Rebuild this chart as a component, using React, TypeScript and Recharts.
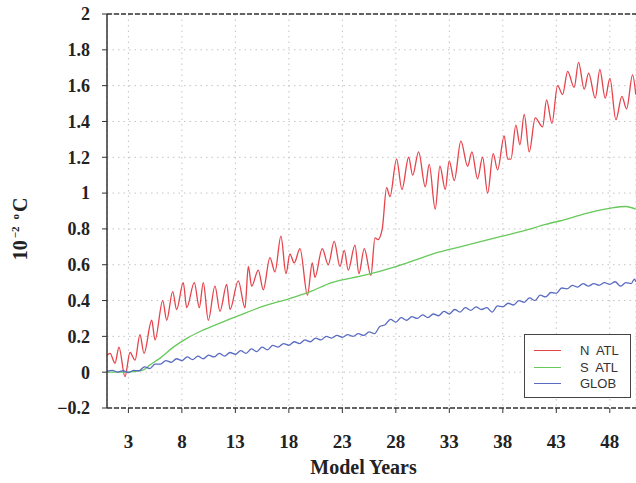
import { LineChart, Line, XAxis, YAxis, CartesianGrid, ReferenceLine } from 'recharts';

// [model year, value in 10^-2 °C]
const nAtl: [number, number][] = [
    [1.0, 0.095], [1.28, 0.105], [1.75, 0.05], [2.12, 0.14], [2.68, -0.025], [3.15, 0.11],
    [3.62, 0.067], [4.08, 0.21], [4.46, 0.105], [5.18, 0.29], [5.49, 0.18], [6.21, 0.4],
    [6.58, 0.29], [7.14, 0.45], [7.51, 0.35], [8.13, 0.5], [8.45, 0.36], [9.16, 0.5],
    [9.63, 0.36], [10.0, 0.5], [10.47, 0.29], [11.09, 0.48], [11.56, 0.34], [12.19, 0.49],
    [12.5, 0.35], [13.27, 0.51], [13.9, 0.36], [14.21, 0.59], [14.52, 0.48], [15.14, 0.57],
    [15.61, 0.46], [16.23, 0.64], [16.7, 0.56], [17.26, 0.76], [17.73, 0.55], [18.1, 0.66],
    [18.5, 0.61], [19.04, 0.69], [19.74, 0.43], [20.19, 0.61], [20.44, 0.53], [21.12, 0.69],
    [21.68, 0.6], [22.24, 0.73], [22.78, 0.59], [23.18, 0.68], [23.55, 0.57], [24.18, 0.71],
    [24.55, 0.55], [25.05, 0.69], [25.67, 0.54], [26.05, 0.75], [26.33, 0.74], [26.73, 0.8],
    [27.14, 1.03], [27.45, 0.98], [28.07, 1.19], [28.57, 1.02], [29.2, 1.2], [29.57, 1.1],
    [30.13, 1.23], [30.75, 1.035], [31.12, 1.16], [31.68, 0.91], [32.12, 1.15], [32.62, 1.02],
    [32.99, 1.18], [33.46, 1.07], [34.08, 1.29], [34.71, 1.15], [35.11, 1.23], [35.64, 1.08],
    [36.11, 1.2], [36.58, 1.0], [37.1, 1.22], [37.51, 1.13], [38.13, 1.32], [38.45, 1.19],
    [38.76, 1.19], [39.22, 1.38], [39.6, 1.27], [40.0, 1.44], [40.47, 1.23], [41.03, 1.42],
    [41.72, 1.37], [42.09, 1.52], [42.59, 1.39], [43.12, 1.6], [43.59, 1.55], [44.06, 1.68],
    [44.67, 1.59], [45.08, 1.73], [45.61, 1.58], [46.02, 1.67], [46.64, 1.53], [47.07, 1.69],
    [47.57, 1.53], [48.01, 1.64], [48.57, 1.41], [49.13, 1.54], [49.57, 1.47], [50.13, 1.66],
    [50.43, 1.55],
];

const sAtl: [number, number][] = [
    [1.0, 0.0], [2.7, 0.0], [4.3, 0.01], [5.0, 0.04], [6.0, 0.08], [7.2, 0.14], [8.5, 0.19],
    [9.8, 0.23], [11.8, 0.28], [13.5, 0.32], [15.7, 0.37], [18.0, 0.41], [20.0, 0.45],
    [22.0, 0.5], [25.0, 0.54], [28.0, 0.59], [30.0, 0.63], [32.0, 0.67], [34.0, 0.7],
    [36.0, 0.73], [38.0, 0.76], [40.0, 0.79], [42.0, 0.825], [44.0, 0.855], [46.0, 0.89],
    [48.0, 0.915], [49.5, 0.925], [50.43, 0.91],
];

const glob: [number, number][] = [
    [1.0, 0.005], [1.5, 0.01], [2.0, 0.0], [2.5, 0.008], [3.0, -0.002], [3.5, 0.01], [4.0, 0.008],
    [4.5, 0.03], [5.0, 0.02], [5.5, 0.045], [6.0, 0.045], [6.5, 0.065], [7.0, 0.055], [7.5, 0.075],
    [8.0, 0.065], [8.5, 0.085], [9.0, 0.07], [9.5, 0.09], [10.0, 0.075], [10.5, 0.095], [11.0, 0.085],
    [11.5, 0.105], [12.0, 0.09], [12.5, 0.11], [13.0, 0.1], [13.5, 0.12], [14.0, 0.105], [14.5, 0.13],
    [15.0, 0.115], [15.5, 0.14], [16.0, 0.125], [16.5, 0.15], [17.0, 0.14], [17.5, 0.16], [18.0, 0.15],
    [18.5, 0.17], [19.0, 0.16], [19.5, 0.18], [20.0, 0.17], [20.5, 0.19], [21.0, 0.18], [21.5, 0.2],
    [22.0, 0.19], [22.5, 0.205], [23.0, 0.195], [23.5, 0.21], [24.0, 0.2], [24.5, 0.215], [25.0, 0.205],
    [25.5, 0.225], [26.0, 0.215], [26.5, 0.255], [27.0, 0.265], [27.5, 0.295], [28.0, 0.28],
    [28.5, 0.305], [29.0, 0.29], [29.5, 0.31], [30.0, 0.3], [30.5, 0.32], [31.0, 0.305], [31.5, 0.325],
    [32.0, 0.315], [32.5, 0.34], [33.0, 0.325], [33.5, 0.35], [34.0, 0.335], [34.5, 0.36], [35.0, 0.345],
    [35.5, 0.365], [36.0, 0.35], [36.5, 0.36], [37.0, 0.335], [37.5, 0.37], [38.0, 0.365], [38.5, 0.385],
    [39.0, 0.375], [39.5, 0.4], [40.0, 0.39], [40.5, 0.415], [41.0, 0.4], [41.5, 0.43], [42.0, 0.42],
    [42.5, 0.445], [43.0, 0.44], [43.5, 0.47], [44.0, 0.465], [44.5, 0.485], [45.0, 0.475],
    [45.5, 0.495], [46.0, 0.48], [46.5, 0.495], [47.0, 0.485], [47.5, 0.5], [48.0, 0.49], [48.5, 0.505],
    [49.0, 0.48], [49.5, 0.5], [50.0, 0.495], [50.3, 0.52], [50.43, 0.505],
];

const xTicks = [3, 8, 13, 18, 23, 28, 33, 38, 43, 48];
const yTicks = [-0.2, 0, 0.2, 0.4, 0.6, 0.8, 1, 1.2, 1.4, 1.6, 1.8, 2];

const series = [
    { name: 'N  ATL', points: nAtl, color: '#e6434b' },
    { name: 'S  ATL', points: sAtl, color: '#66c95a' },
    { name: 'GLOB', points: glob, color: '#5a6cc2' },
];

const serif = '"Liberation Serif", "Times New Roman", serif';

const fmtY = (v: number) => {
    if (v === 0) return '0';
    const s = Number.isInteger(v) ? String(v) : v.toFixed(1);
    return s.replace('-', '\u2212');
};

function YLabel() {
    return (
        <text
            transform="translate(27, 229) rotate(-90)"
            textAnchor="middle"
            fontFamily={serif}
            fontWeight="bold"
            fontSize={20}
            fill="#222"
        >
            <tspan>10</tspan>
            <tspan fontSize={11} dx={2} dy={-8}>{'\u22122'}</tspan>
            <tspan fontSize={11} dx={7}>o</tspan>
            <tspan dx={2} dy={8}>C</tspan>
        </text>
    );
}

export default function App() {
    return (
        <div style={{ position: 'absolute', left: 0, top: 0, width: 636, height: 483, background: '#fff' }}>
            <LineChart width={636} height={483} margin={{ top: 14, right: 0, bottom: 0, left: 0 }}>
                <CartesianGrid stroke="#c4c4c4" strokeDasharray="1.5 4" />
                <XAxis
                    type="number"
                    dataKey="x"
                    domain={[1, 50.45]}
                    ticks={xTicks}
                    allowDataOverflow
                    height={75}
                    tickSize={5}
                    tickMargin={22}
                    tickLine={{ stroke: '#333' }}
                    axisLine={{ stroke: '#333', strokeDasharray: '5 2', strokeWidth: 1.5 }}
                    tick={{ fontFamily: serif, fontWeight: 'bold', fontSize: 19, fill: '#222' }}
                    label={{
                        value: 'Model Years',
                        position: 'insideBottom',
                        offset: 9,
                        dx: -8,
                        style: { fontFamily: serif, fontWeight: 'bold', fontSize: 20, fill: '#222' },
                    }}
                />
                <YAxis
                    type="number"
                    domain={[-0.2, 2]}
                    ticks={yTicks}
                    allowDataOverflow
                    width={107}
                    tickSize={5}
                    tickMargin={12}
                    tickFormatter={fmtY}
                    tickLine={{ stroke: '#333' }}
                    axisLine={{ stroke: '#333', strokeWidth: 1.5 }}
                    tick={{ fontFamily: serif, fontWeight: 'bold', fontSize: 18, fill: '#222' }}
                    label={{ content: () => <YLabel /> }}
                />
                <ReferenceLine y={2} stroke="#333" strokeWidth={1.5} strokeDasharray="5 2" />
                {series.map(s => (
                    <Line
                        key={s.name}
                        data={s.points.map(([x, y]) => ({ x, y }))}
                        dataKey="y"
                        type="monotone"
                        stroke={s.color}
                        strokeWidth={1.3}
                        dot={false}
                        isAnimationActive={false}
                    />
                ))}
            </LineChart>
            <div
                style={{
                    position: 'absolute',
                    left: 524,
                    top: 334,
                    width: 105,
                    height: 62,
                    border: '1.5px solid #444',
                    background: '#fff',
                    fontFamily: '"Liberation Sans", Arial, sans-serif',
                    fontSize: 13,
                    color: '#333',
                    boxSizing: 'content-box',
                }}
            >
                {series.map((s, i) => (
                    <div
                        key={s.name}
                        style={{ position: 'absolute', left: 0, top: 8 + i * 16.5, height: 16, width: '100%' }}
                    >
                        <div style={{ position: 'absolute', left: 9, top: 7, width: 27, height: 0, borderTop: `1.5px solid ${s.color}` }} />
                        <div style={{ position: 'absolute', left: 55, top: 0, whiteSpace: 'pre', lineHeight: '15px' }}>{s.name}</div>
                    </div>
                ))}
            </div>
        </div>
    );
}
